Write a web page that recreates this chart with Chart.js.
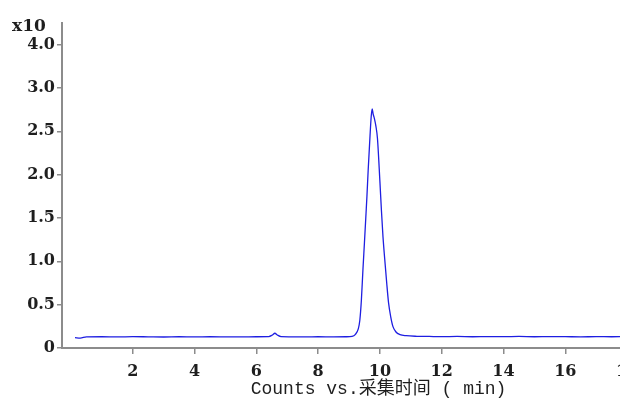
<!DOCTYPE html>
<html>
<head>
<meta charset="utf-8">
<script src="https://cdn.jsdelivr.net/npm/chart.js@4"></script>
<style>
    html, body { margin: 0; padding: 0; background: #fff; overflow: hidden; }
    #tic { display: block; }
</style>
</head>
<body>
<canvas id="tic" width="708" height="400"></canvas>
<script>
// acquisition time (min) and counts (x10^n)
const times = [
    0.13, 0.3, 0.5, 1.0, 1.5, 2.0, 2.5, 3.0, 3.5, 4.0, 4.5, 5.0, 5.5, 6.0,
    6.4, 6.52, 6.6, 6.68, 6.8, 7.2, 7.6, 8.0, 8.5, 8.9,
    9.1, 9.2, 9.3, 9.35, 9.4, 9.45, 9.5, 9.55, 9.58, 9.62, 9.68, 9.72, 9.75,
    9.78, 9.82, 9.87, 9.92, 10.0, 10.05, 10.1, 10.15, 10.22, 10.28, 10.35,
    10.42, 10.52, 10.65, 10.85, 11.2, 11.6, 12.0, 12.5, 13.0, 13.5, 14.0,
    14.5, 15.0, 15.5, 16.0, 16.5, 17.0, 17.5, 18.0, 18.5, 19.0, 19.5, 20.0
];
const counts = [
    0.120, 0.115, 0.128, 0.130, 0.128, 0.131, 0.129, 0.127, 0.130, 0.128, 0.130, 0.129, 0.128, 0.130,
    0.131, 0.150, 0.170, 0.150, 0.131, 0.129, 0.128, 0.130, 0.129, 0.130,
    0.135, 0.155, 0.22, 0.32, 0.55, 0.90, 1.22, 1.55, 1.75, 2.05, 2.45, 2.68, 2.76,
    2.70, 2.65, 2.56, 2.42, 1.92, 1.58, 1.28, 1.05, 0.75, 0.52, 0.36,
    0.25, 0.185, 0.155, 0.142, 0.135, 0.133, 0.131, 0.133, 0.130, 0.132, 0.131,
    0.133, 0.130, 0.132, 0.131, 0.129, 0.131, 0.130, 0.131, 0.130, 0.129, 0.130, 0.130
];

const xTicks = [2, 4, 6, 8, 10, 12, 14, 16, 18, 20];
const yTicks = [0, 0.5, 1.0, 1.5, 2.0, 2.5, 3.0, 3.5];
const yTickLabels = ['0', '0.5', '1.0', '1.5', '2.0', '2.5', '3.0', '4.0'];

const AXIS_GREY = '#8c8c8c';
const TEXT = '#1e1e1e';
const tickFont = { family: '"DejaVu Serif", serif', size: 16, weight: 'bold' };

// exponent marker above the y axis
const exponentLabel = {
    id: 'exponentLabel',
    afterDraw(chart) {
        const { ctx, chartArea } = chart;
        ctx.save();
        ctx.font = 'bold 17px "DejaVu Serif", serif';
        ctx.fillStyle = TEXT;
        ctx.textBaseline = 'alphabetic';
        ctx.fillText('x10', chartArea.left - 50, chartArea.top + 8);
        ctx.restore();
    }
};

new Chart(document.getElementById('tic'), {
    type: 'line',
    data: {
        datasets: [{
            data: times.map((t, i) => ({ x: t, y: counts[i] })),
            borderColor: 'rgb(30, 30, 225)',
            borderWidth: 1.3,
            pointRadius: 0,
            cubicInterpolationMode: 'monotone',
            fill: false
        }]
    },
    options: {
        responsive: false,
        animation: false,
        layout: { padding: { top: 23, right: 0, left: 0, bottom: 0 } },
        plugins: { legend: { display: false }, tooltip: { enabled: false } },
        scales: {
            x: {
                type: 'linear',
                min: -0.29,
                max: 20.2,
                afterFit: (s) => { s.height = 52; },
                afterBuildTicks: (s) => { s.ticks = xTicks.map(v => ({ value: v })); },
                border: { display: true, color: AXIS_GREY, width: 2 },
                grid: { drawOnChartArea: false, drawTicks: true, tickLength: 6, color: AXIS_GREY, lineWidth: 1.5 },
                ticks: {
                    font: tickFont,
                    color: TEXT,
                    padding: 8,
                    maxRotation: 0,
                    callback: (v) => String(v)
                },
                title: {
                    display: true,
                    text: 'Counts vs.采集时间 ( min)',
                    font: { family: '"Liberation Mono", "Noto Sans CJK SC", monospace', size: 18 },
                    color: TEXT,
                    padding: { top: 0, bottom: 0 }
                }
            },
            y: {
                type: 'linear',
                min: 0,
                max: 3.75,
                afterFit: (s) => { s.width = 62; },
                afterBuildTicks: (s) => { s.ticks = yTicks.map(v => ({ value: v })); },
                border: { display: true, color: AXIS_GREY, width: 2 },
                grid: { drawOnChartArea: false, drawTicks: true, tickLength: 5, color: AXIS_GREY, lineWidth: 1.5 },
                ticks: {
                    font: tickFont,
                    color: TEXT,
                    padding: 2,
                    callback: (v, i) => yTickLabels[i]
                }
            }
        }
    },
    plugins: [exponentLabel]
});
</script>
</body>
</html>
